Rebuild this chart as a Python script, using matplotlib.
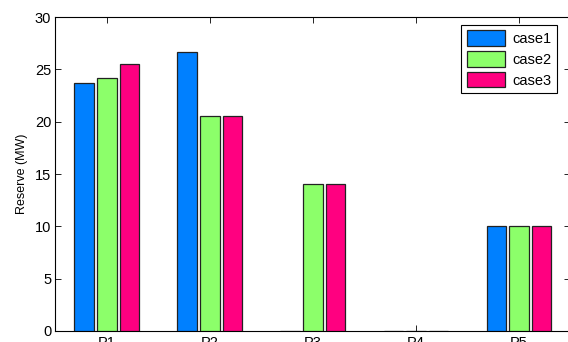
import matplotlib.pyplot as plt
import numpy as np

plt.rcParams['font.family'] = ['Liberation Sans', 'DejaVu Sans']

# data
units = ['P1', 'P2', 'P3', 'P4', 'P5']
case1 = [23.7, 26.7, 0, 0, 10]
case2 = [24.2, 20.5, 14, 0, 10]
case3 = [25.5, 20.5, 14, 0, 10]
series = ['case1', 'case2', 'case3']
colors = ['#0080ff', '#8cff6a', '#ff0080']

fig = plt.figure(figsize=(5.68, 3.42), dpi=100)
ax = fig.add_axes([0.0977, 0.0322, 0.9067, 0.918])

x = np.arange(1, len(units) + 1)
offset = 0.223
width = 0.185
for i, (vals, name, c) in enumerate(zip([case1, case2, case3], series, colors)):
    ax.bar(x + (i - 1) * offset, vals, width=width, color=c,
           edgecolor='#222222', linewidth=0.9, label=name, zorder=3)

ax.set_xlim(0.5, 5.5)
ax.set_ylim(0, 30)
ax.set_yticks(np.arange(0, 31, 5))
ax.set_xticks(x)
ax.set_xticklabels(units, fontsize=10.5)
ax.tick_params(axis='y', labelsize=10.5, pad=3)
ax.tick_params(direction='in', length=4, width=0.6, top=True, right=True)
ax.set_ylabel('Reserve (MW)', fontsize=9, labelpad=5)
for s in ax.spines.values():
    s.set_linewidth(0.8)

leg = ax.legend(loc='upper right', bbox_to_anchor=(0.98, 0.985), fontsize=10.5,
                fancybox=False, framealpha=1, edgecolor='black',
                handlelength=2.6, handleheight=1.25, borderpad=0.4,
                labelspacing=0.35, handletextpad=0.5, borderaxespad=0.2)
leg.get_frame().set_linewidth(0.8)

fig.savefig('out.png', dpi=100)
